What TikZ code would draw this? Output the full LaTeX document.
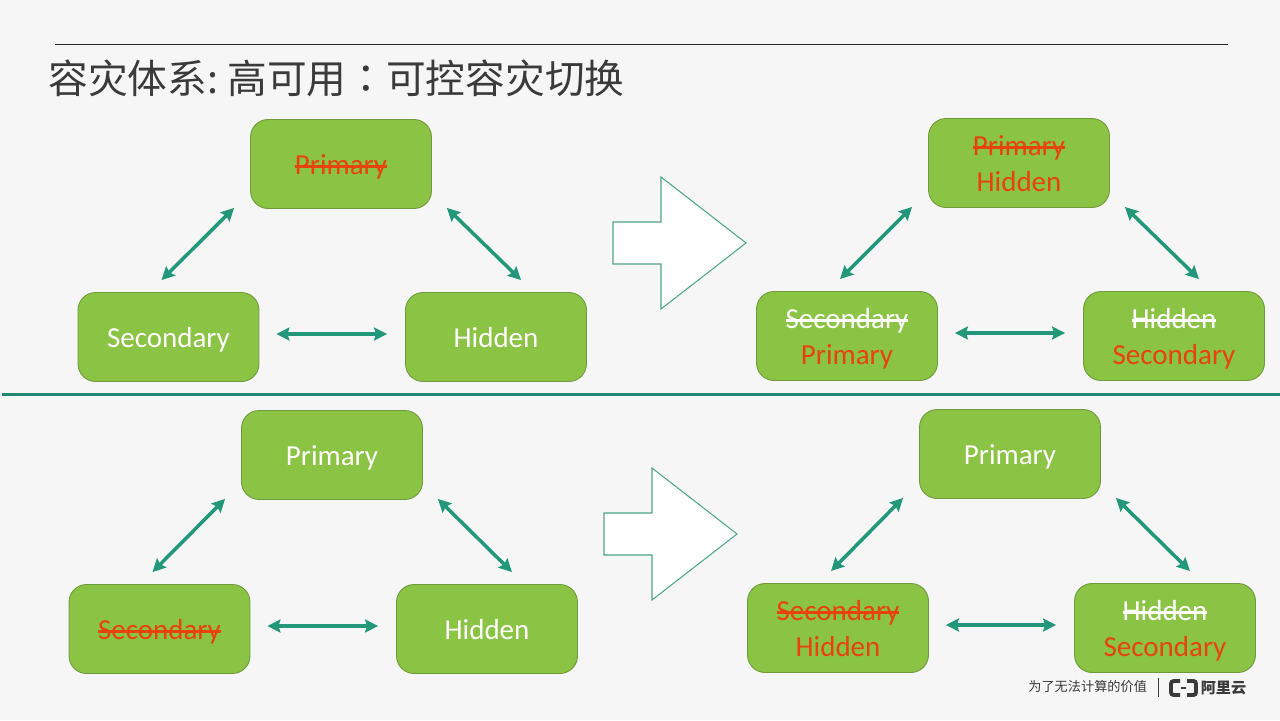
\documentclass[tikz,border=0pt]{standalone}
\usepackage{fontspec}
\usepackage{xcolor}
\usetikzlibrary{arrows.meta,calc}
\setmainfont{Carlito}
\newfontfamily\cjk{Noto Sans CJK SC}
\newfontfamily\cjktc{Noto Sans CJK TC}
\definecolor{pagebg}{HTML}{F6F6F6}
\definecolor{boxgreen}{HTML}{8BC344}
\definecolor{boxedge}{HTML}{6E9A3C}
\definecolor{teal}{HTML}{23977A}
\definecolor{shapeedge}{HTML}{4FA58C}
\definecolor{alert}{HTML}{E8420E}
\definecolor{dark}{HTML}{3A3A3A}
\newcommand{\strk}[2]{\setbox0=\hbox{#2}\leavevmode\rule{0pt}{16pt}\rlap{\textcolor{#1}{\rule[0.24em]{\wd0}{0.08em}}}\textcolor{#1}{\box0}}
\newcommand{\rd}[1]{\textcolor{alert}{#1}\rule[-4pt]{0pt}{4pt}}
\begin{document}
\begin{tikzpicture}[
    x=0.02cm, y=-0.02cm,
    role/.style={rectangle, rounded corners=10pt, draw=boxedge, fill=boxgreen, line width=0.5pt, minimum width=3.62cm, minimum height=1.78cm, align=center, text=white, font=\fontsize{16.5}{20.4}\selectfont, execute at begin node={\rule{0pt}{16pt}}, execute at end node={\rule[-4pt]{0pt}{4pt}}},
    link/.style={{Stealth[length=2.6mm,width=2.6mm,inset=0.4mm]}-{Stealth[length=2.6mm,width=2.6mm,inset=0.4mm]}, line width=2pt, color=teal},
    bigarrow/.style={draw=shapeedge, fill=white, line width=0.6pt}
]
    \useasboundingbox (0,0) rectangle (1280,720);
    \fill[pagebg] (0,0) rectangle (1280,720);

    % Title
    \coordinate (rulea) at (55,44);
    \coordinate (ruleb) at (1228,44);
    \draw[line width=0.45pt, color=black!85] (rulea) -- (ruleb);
    \node[anchor=west, inner sep=0pt, text=dark, font=\cjk\fontsize{22.6}{26}\selectfont] (title) at (48,78) {容灾体系:\hspace{-1.5pt} 高可用{\cjktc ：}可控容灾切换};

    % Upper left
    \node[role] (ap) at (341,164) {\strk{alert}{Primary}};
    \node[role] (as) at (168.5,337) {Secondary};
    \node[role] (ah) at (496,337) {Hidden};

    % Upper right
    \node[role] (bp) at (1019,163) {\strk{alert}{Primary}\\\rd{Hidden}};
    \node[role] (bs) at (847,336) {\strk{white}{Secondary}\\\rd{Primary}};
    \node[role] (bh) at (1174,336) {\strk{white}{Hidden}\\\rd{Secondary}};

    % Divider
    \coordinate (diva) at (2,394);
    \coordinate (divb) at (1280,394);
    \draw[line width=1.7pt, color=teal!90!black] (diva) -- (divb);

    % Lower left
    \node[role] (cp) at (332,455) {Primary};
    \node[role] (cs) at (159.5,629) {\strk{alert}{Secondary}};
    \node[role] (ch) at (487,629) {Hidden};

    % Lower right
    \node[role] (dp) at (1010,454) {Primary};
    \node[role] (ds) at (838,628) {\strk{alert}{Secondary}\\\rd{Hidden}};
    \node[role] (dh) at (1165,628) {\strk{white}{Hidden}\\\rd{Secondary}};

    % Links
    \foreach \pn in {a,b,c,d} {
        \draw[link] ($(\pn p.south west)+(-16,-1)$) -- ($(\pn s.north)+(-7,-12)$);
        \draw[link] ($(\pn p.south east)+(15,-1)$) -- ($(\pn h.north)+(25,-12)$);
        \draw[link] ($(\pn s.east)+(17,-3)$) -- ($(\pn h.west)+(-18,-3)$);
    }

    % Block arrows
    \foreach \dx/\dy in {0/0,-9/291} {
        \draw[bigarrow, shift={(\dx,\dy)}] (613,222) -- (661,222) -- (661,177) -- (746,243) -- (661,309) -- (661,264) -- (613,264) -- cycle;
    }

    % Footer
    \node[anchor=west, inner sep=0pt, text=dark, font=\cjk\fontsize{7.5}{9}\selectfont] (slogan) at (1028,687) {为了无法计算的价值};
    \draw[line width=0.5pt, color=dark] (1158.5,678) -- (1158.5,697);
    \draw[line width=2.2pt, color=dark, rounded corners=1.5pt] (1180,681) -- (1171,681) -- (1171,695) -- (1180,695);
    \draw[line width=2.2pt, color=dark, rounded corners=1.5pt] (1187,681) -- (1196,681) -- (1196,695) -- (1187,695);
    \draw[line width=0.7pt, color=dark] (1181,688) -- (1186,688);
    \node[anchor=west, inner sep=0pt, text=dark, font=\cjk\bfseries\fontsize{8.6}{10}\selectfont] (brand) at (1200.5,688) {阿里云};
\end{tikzpicture}
\end{document}
